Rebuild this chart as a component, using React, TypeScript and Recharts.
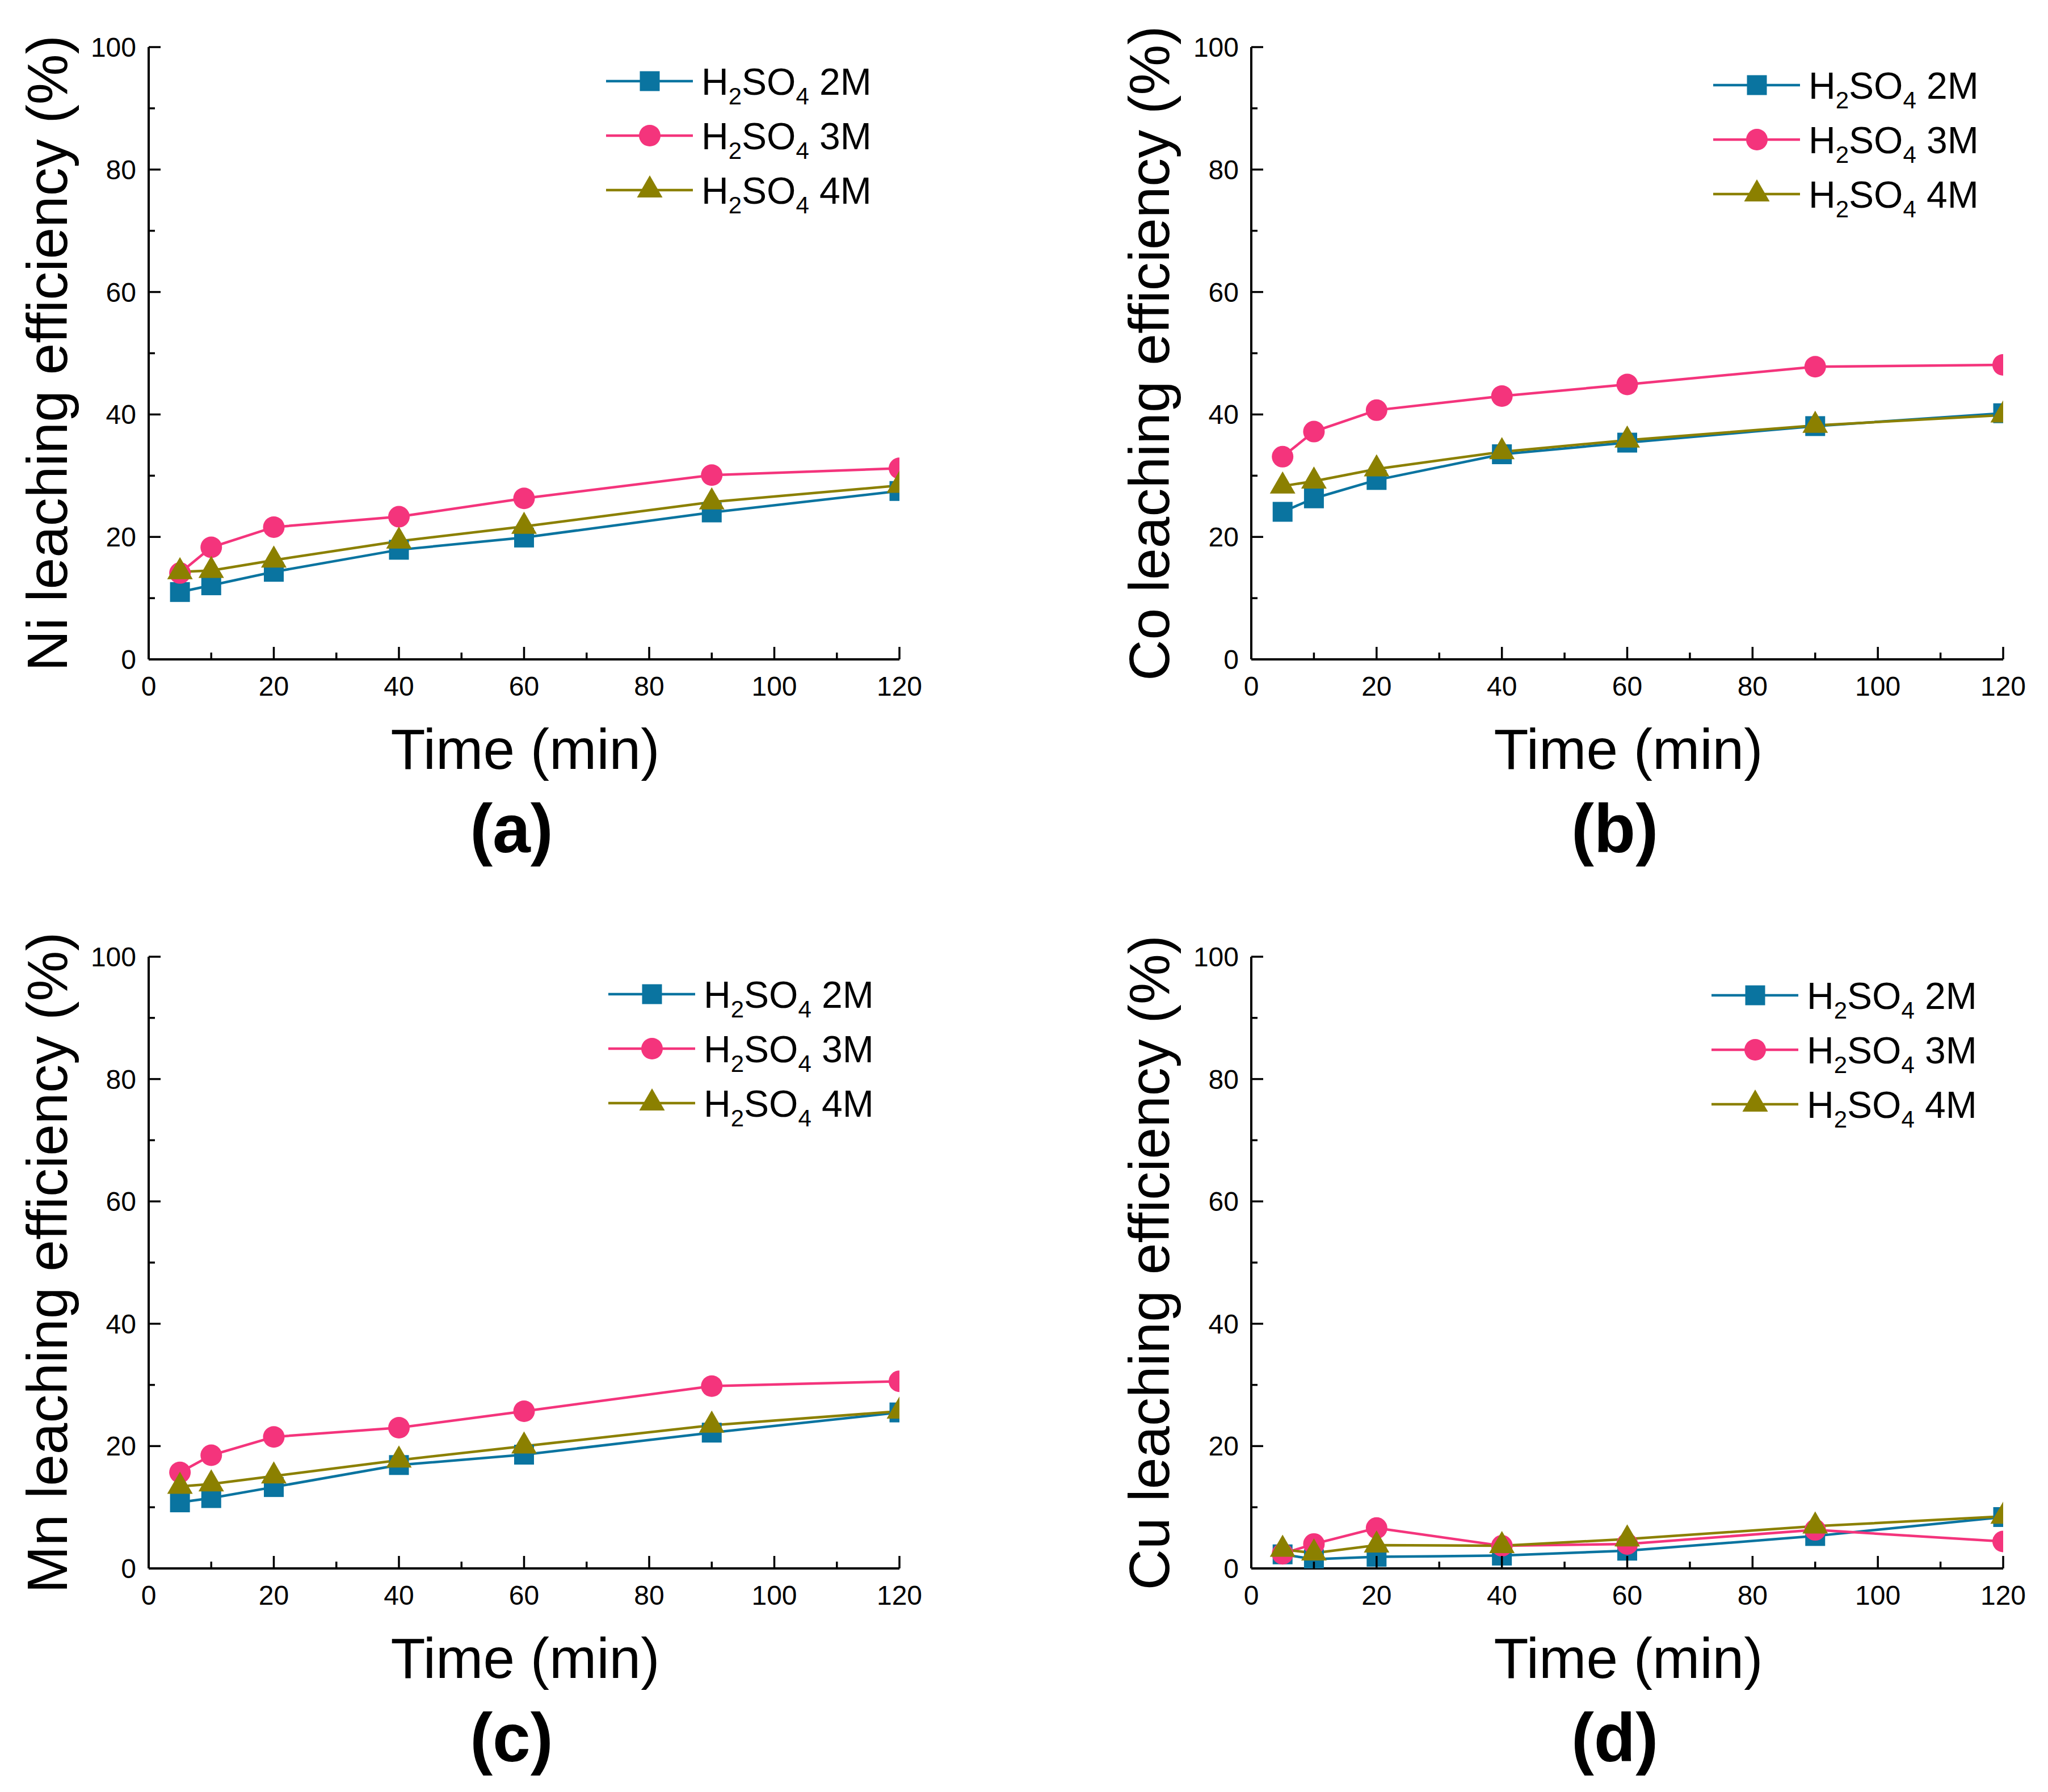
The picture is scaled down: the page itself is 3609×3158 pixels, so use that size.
import React from 'react';
import { LineChart, Line, XAxis, YAxis, Legend } from 'recharts';

// ---------- data ----------
const timeMin = [5, 10, 20, 40, 60, 90, 120];
const seriesLabels = ['2M', '3M', '4M'];

const ni2M = [11.0, 12.1, 14.3, 17.9, 19.9, 24.0, 27.5];
const ni3M = [14.1, 18.3, 21.6, 23.3, 26.3, 30.1, 31.2];
const ni4M = [14.3, 14.5, 16.2, 19.3, 21.7, 25.7, 28.4];

const co2M = [24.1, 26.3, 29.3, 33.5, 35.4, 38.1, 40.2];
const co3M = [33.1, 37.2, 40.7, 43.0, 44.9, 47.8, 48.1];
const co4M = [28.3, 29.1, 31.1, 33.9, 35.8, 38.2, 39.9];

const mn2M = [10.8, 11.5, 13.3, 16.9, 18.6, 22.2, 25.5];
const mn3M = [15.7, 18.5, 21.5, 23.0, 25.7, 29.8, 30.6];
const mn4M = [13.4, 13.8, 15.1, 17.7, 20.0, 23.4, 25.7];

const cu2M = [2.3, 1.5, 1.9, 2.1, 2.9, 5.3, 8.4];
const cu3M = [2.4, 4.0, 6.6, 3.7, 4.0, 6.3, 4.4];
const cu4M = [3.1, 2.5, 3.8, 3.7, 4.8, 6.9, 8.5];

const xTicks = [0, 10, 20, 30, 40, 50, 60, 70, 80, 90, 100, 110, 120];
const yTicks = [0, 10, 20, 30, 40, 50, 60, 70, 80, 90, 100];

const colors = ['#0A74A0', '#F4347C', '#8B8000'];
const shapes = ['square', 'circle', 'triangle'];

const FONT = '"Liberation Sans", Arial, Helvetica, sans-serif';

// ---------- panel layout ----------
const panels = [
  { key: 'a', letter: '(a)', yTitle: 'Ni leaching efficiency (%)', values: [ni2M, ni3M, ni4M],
    plot: { l: 262, t: 83, r: 1585, b: 1162 }, legend: { left: 1068, top: 113 } },
  { key: 'b', letter: '(b)', yTitle: 'Co leaching efficiency (%)', values: [co2M, co3M, co4M],
    plot: { l: 2205, t: 83, r: 3530, b: 1162 }, legend: { left: 3019, top: 120 } },
  { key: 'c', letter: '(c)', yTitle: 'Mn leaching efficiency (%)', values: [mn2M, mn3M, mn4M],
    plot: { l: 262, t: 1686, r: 1585, b: 2764 }, legend: { left: 1072, top: 1722 } },
  { key: 'd', letter: '(d)', yTitle: 'Cu leaching efficiency (%)', values: [cu2M, cu3M, cu4M],
    plot: { l: 2205, t: 1686, r: 3530, b: 2764 }, legend: { left: 3016, top: 1724 } },
];

const Y_AXIS_W = 262;
const M_TOP = 40;
const M_RIGHT = 70;
const X_AXIS_H = 110;

function Marker({ cx, cy, shape, color }: { cx: number; cy: number; shape: string; color: string }) {
  if (cx == null || cy == null || isNaN(cx) || isNaN(cy)) return null;
  if (shape === 'square') {
    return <rect x={cx - 17.5} y={cy - 17.5} width={35} height={35} fill={color} />;
  }
  if (shape === 'circle') {
    return <circle cx={cx} cy={cy} r={19} fill={color} />;
  }
  const w = 45;
  const h = 39;
  const pts = `${cx},${cy - (2 * h) / 3} ${cx - w / 2},${cy + h / 3} ${cx + w / 2},${cy + h / 3}`;
  return <polygon points={pts} fill={color} />;
}

const XTick = (props: any) => {
  const { x, y, payload } = props;
  const v = payload.value;
  const major = v % 20 === 0;
  return (
    <g>
      <line x1={x} x2={x} y1={y} y2={y - (major ? 22 : 12)} stroke="#000" strokeWidth={3.5} />
      {major && (
        <text x={x} y={y + 64} textAnchor="middle" fontSize={48} fontFamily={FONT} fill="#000">
          {v}
        </text>
      )}
    </g>
  );
};

const YTick = (props: any) => {
  const { x, y, payload } = props;
  const v = payload.value;
  const major = v % 20 === 0;
  return (
    <g>
      <line x1={x} x2={x + (major ? 21 : 11)} y1={y} y2={y} stroke="#000" strokeWidth={3.5} />
      {major && (
        <text x={x - 22} y={y + 17} textAnchor="end" fontSize={48} fontFamily={FONT} fill="#000">
          {v}
        </text>
      )}
    </g>
  );
};

function LegendBox() {
  const rows = [30, 126, 222];
  return (
    <svg width={560} height={290} style={{ overflow: 'visible', display: 'block' }}>
      {seriesLabels.map((lab, i) => (
        <g key={lab}>
          <line x1={0} x2={153} y1={rows[i]} y2={rows[i]} stroke={colors[i]} strokeWidth={4.5} />
          <Marker cx={77} cy={rows[i]} shape={shapes[i]} color={colors[i]} />
          <text x={168} y={rows[i] + 24} fontSize={66} fontFamily={FONT} fill="#000">
            H
            <tspan fontSize={42} dy={17}>2</tspan>
            <tspan dy={-17}>SO</tspan>
            <tspan fontSize={42} dy={17}>4</tspan>
            <tspan dy={-17}>{' ' + lab}</tspan>
          </text>
        </g>
      ))}
    </svg>
  );
}

function Panel({ p }: { p: (typeof panels)[number] }) {
  const plotW = p.plot.r - p.plot.l;
  const plotH = p.plot.b - p.plot.t;
  const chartLeft = p.plot.l - Y_AXIS_W;
  const chartTop = p.plot.t - M_TOP;
  const width = Y_AXIS_W + plotW + M_RIGHT;
  const height = M_TOP + plotH + X_AXIS_H;
  const data = timeMin.map((t, i) => ({
    t,
    s0: p.values[0][i],
    s1: p.values[1][i],
    s2: p.values[2][i],
  }));
  return (
    <div style={{ position: 'absolute', left: chartLeft, top: chartTop, width, height }}>
      <LineChart
        width={width}
        height={height}
        data={data}
        margin={{ top: M_TOP, right: M_RIGHT, left: 0, bottom: 0 }}
        style={{ overflow: 'visible' }}
      >
        <XAxis
          dataKey="t"
          type="number"
          domain={[0, 120]}
          ticks={xTicks}
          interval={0}
          allowDataOverflow
          height={X_AXIS_H}
          tickSize={0}
          tickMargin={0}
          tickLine={false}
          tick={XTick}
          axisLine={{ stroke: '#000', strokeWidth: 4 }}
        />
        <XAxis
          xAxisId="top"
          orientation="top"
          dataKey="t"
          type="number"
          domain={[0, 120]}
          height={0}
          tick={false}
          tickLine={false}
          axisLine={{ stroke: '#000', strokeWidth: 4 }}
        />
        <YAxis
          type="number"
          domain={[0, 100]}
          ticks={yTicks}
          interval={0}
          allowDataOverflow
          width={Y_AXIS_W}
          tickSize={0}
          tickMargin={0}
          tickLine={false}
          tick={YTick}
          axisLine={{ stroke: '#000', strokeWidth: 4 }}
        />
        <YAxis
          yAxisId="right"
          orientation="right"
          type="number"
          domain={[0, 100]}
          width={0}
          tick={false}
          tickLine={false}
          axisLine={{ stroke: '#000', strokeWidth: 4 }}
        />
        {[0, 1, 2].map((i) => (
          <Line
            key={i}
            type="linear"
            dataKey={`s${i}`}
            name={seriesLabels[i]}
            stroke={colors[i]}
            strokeWidth={4.5}
            isAnimationActive={false}
            dot={(dp: any) => (
              <Marker key={`${i}-${dp.index}`} cx={dp.cx} cy={dp.cy} shape={shapes[i]} color={colors[i]} />
            )}
            activeDot={false}
          />
        ))}
        <Legend
          layout="horizontal"
          verticalAlign="middle"
          align="center"
          content={() => <LegendBox />}
          wrapperStyle={{
            position: 'absolute',
            left: p.legend.left - chartLeft,
            top: p.legend.top - chartTop,
            width: 560,
            height: 290,
            right: 'auto',
            bottom: 'auto',
          }}
        />
      </LineChart>
    </div>
  );
}

export default function App() {
  return (
    <div style={{ position: 'absolute', left: 0, top: 0, width: 3609, height: 3158, background: '#fff' }}>
      {panels.map((p) => (
        <Panel key={p.key} p={p} />
      ))}
      <svg
        width={3609}
        height={3158}
        style={{ position: 'absolute', left: 0, top: 0, pointerEvents: 'none' }}
      >
        {panels.map((p) => {
          const cx = (p.plot.l + p.plot.r) / 2;
          const cy = (p.plot.t + p.plot.b) / 2;
          const yBase = p.plot.l < 1000 ? 118 : 2060;
          return (
            <g key={p.key}>
              <text
                x={yBase}
                y={cy}
                transform={`rotate(-90, ${yBase}, ${cy})`}
                textAnchor="middle"
                fontSize={100}
                fontFamily={FONT}
                fill="#000"
              >
                {p.yTitle}
              </text>
              <text x={cx + 2} y={p.plot.b + 193} textAnchor="middle" fontSize={100} fontFamily={FONT} fill="#000">
                Time (min)
              </text>
              <text
                x={cx - 22}
                y={p.plot.b + 340}
                textAnchor="middle"
                fontSize={120}
                fontWeight="bold"
                fontFamily={FONT}
                fill="#000"
              >
                {p.letter}
              </text>
            </g>
          );
        })}
      </svg>
    </div>
  );
}
